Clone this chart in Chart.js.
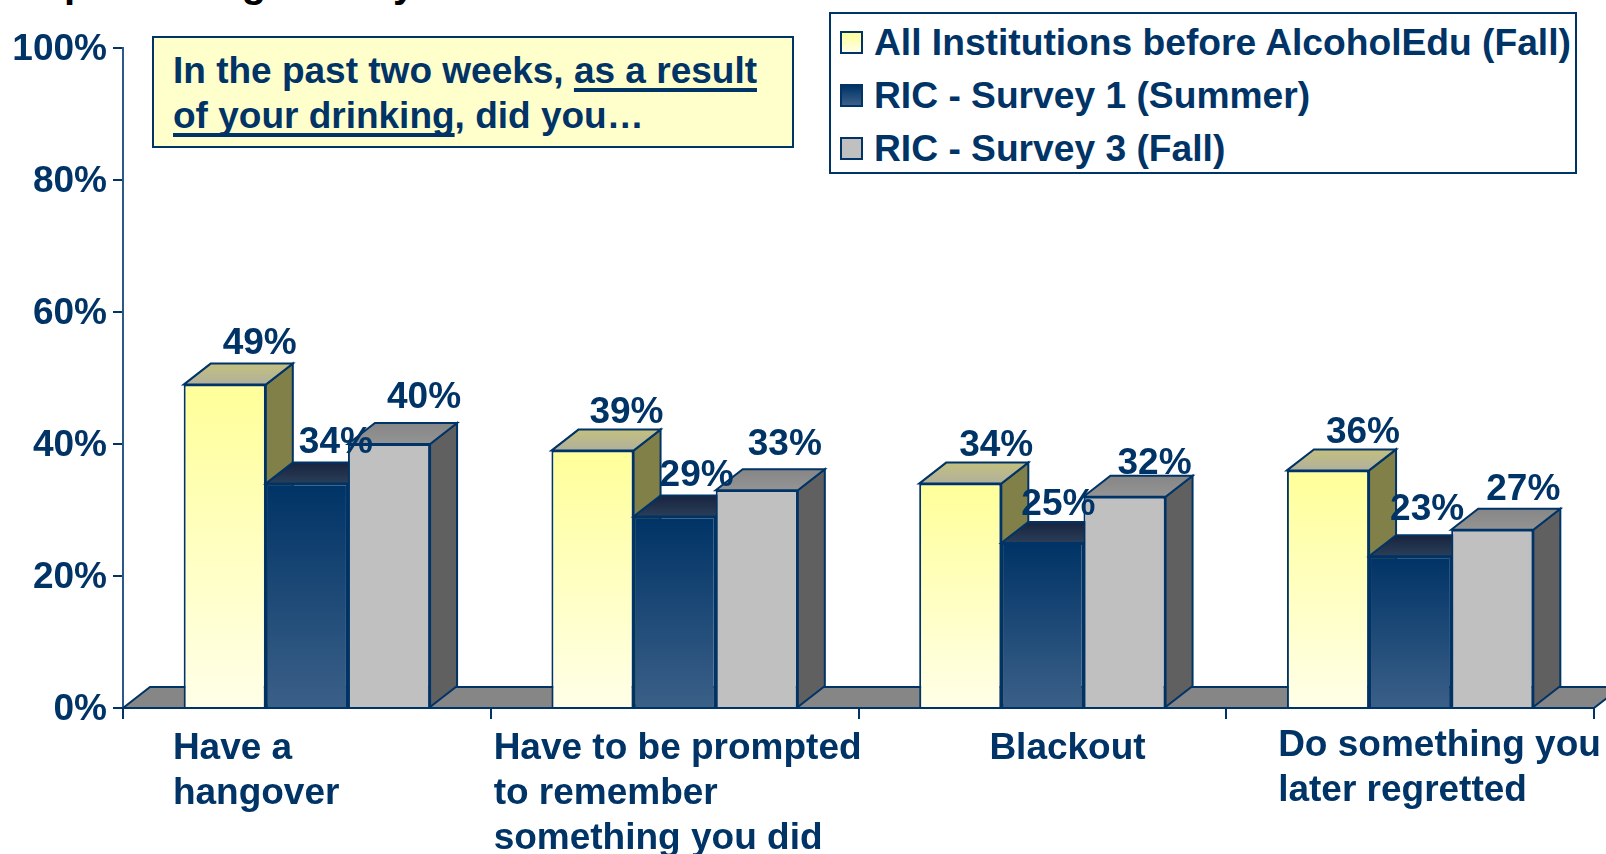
<!DOCTYPE html>
<html>
<head>
<meta charset="utf-8">
<title>Negative consequences of drinking</title>
<script src="https://cdn.jsdelivr.net/npm/chart.js@4/dist/chart.umd.min.js"></script>
<style>
  html, body { margin: 0; padding: 0; background: #fff; overflow: hidden; }
  #wrap { position: relative; width: 1606px; height: 854px; overflow: hidden; }
  canvas { position: absolute; left: 0; top: 0; }
  .box { position: absolute; box-sizing: border-box; border: 2px solid #003366; color: #003366;
         font: bold 37.2px "Liberation Sans", Arial, sans-serif; }
  #titulo { position: absolute; left: 15px; top: -40px; font: bold 40px/46px "Liberation Sans", Arial, sans-serif; color: #000; white-space: nowrap; }
  #titulo span { position: absolute; left: 378px; top: 0; }
  #note { left: 152px; top: 36px; width: 642px; height: 112px; background: #ffffcc; padding: 10px 0 0 19px; line-height: 45px; white-space: nowrap; font-size: 37px; }
  #note u { text-decoration-thickness: 4px; text-underline-offset: 5px; text-decoration-skip-ink: none; }
  #legend { left: 829px; top: 12px; width: 748px; height: 162px; background: #fff; padding: 2px 0 0 9px; white-space: nowrap; }
  #legend div { display: flex; align-items: center; height: 53px; }
  #legend i { display: block; box-sizing: border-box; width: 23px; height: 23px; border: 2px solid #003366; margin-right: 11px; }
</style>
</head>
<body>
<div id="wrap">
  <div id="titulo">Experiencing<span>y</span></div>
  <canvas id="grafico" width="1606" height="854"></canvas>
  <div class="box" id="note">In the past two weeks, <u>as a result</u><br><u>of your drinking</u>, did you…</div>
  <div class="box" id="legend"></div>
</div>
<script>
const categorias = [
    ['Have a', 'hangover'],
    ['Have to be prompted', 'to remember', 'something you did'],
    ['Blackout'],
    ['Do something you', 'later regretted'],
];
const etiquetasSeries = ['All Institutions before AlcoholEdu (Fall)', 'RIC - Survey 1 (Summer)', 'RIC - Survey 3 (Fall)'];
const todas = [49, 39, 34, 36];
const encuesta1 = [34, 29, 25, 23];
const encuesta3 = [40, 33, 32, 27];

const AZUL = '#003366';
const FUENTE = '"Liberation Sans", Arial, sans-serif';
const PROF_X = 27, PROF_Y = 21; // profundidad del efecto 3D

// colores de cada serie: frente (arriba, abajo), lado, tapa (atras, adelante)
const estilos = [
    { frente: ['#ffff99', '#ffffe8'], lado: '#808048', tapa: ['#c4c07e', '#b0b09c'] },
    { frente: ['#003366', '#3b6088'], lado: '#19304f', tapa: ['#18233f', '#2a3f58'] },
    { frente: ['#c0c0c0', '#c0c0c0'], lado: '#606060', tapa: ['#868686', '#949494'] },
];

// ajuste a mano de cada etiqueta de valor respecto al centro de la barra [dx, dy]
const ajustes = [
    [[35, -41], [34, -38], [36, -38], [35, -38]],
    [[29, -41], [22, -41], [16, -38], [17, -46]],
    [[35, -46], [28, -45], [30, -33], [31, -40]],
];
// desplazamiento del texto de cada categoria respecto a su centro [dx, y linea 1]
const ajustesCat = [[-134, 749], [-181, 749], [-53, 749], [-132, 746]];

function degradado(c) {
    const est = estilos[c.datasetIndex];
    const yScale = c.chart.scales.y;
    const arriba = yScale.getPixelForValue(c.raw), abajo = yScale.getPixelForValue(0);
    // antes del layout la escala todavia no tiene pixeles
    if (!Number.isFinite(arriba) || !Number.isFinite(abajo)) return est.frente[0];
    const g = c.chart.ctx.createLinearGradient(0, arriba, 0, abajo);
    g.addColorStop(0, est.frente[0]);
    g.addColorStop(1, est.frente[1]);
    return g;
}

function poligono(ctx, puntos, relleno) {
    ctx.beginPath();
    puntos.forEach((p, i) => i ? ctx.lineTo(p[0], p[1]) : ctx.moveTo(p[0], p[1]));
    ctx.closePath();
    ctx.fillStyle = relleno;
    ctx.fill();
    ctx.lineWidth = 2;
    ctx.strokeStyle = AZUL;
    ctx.stroke();
}

const plugin3d = {
    id: 'plugin3d',
    // piso gris y luego cada serie de izquierda a derecha: lado, tapa y frente
    beforeDatasetsDraw(chart) {
        const { ctx, chartArea: a } = chart;
        const y0 = chart.scales.y.getPixelForValue(0);
        ctx.save();
        poligono(ctx, [[a.left, y0], [a.left + PROF_X, y0 - PROF_Y], [a.right + PROF_X, y0 - PROF_Y], [a.right, y0]], '#868686');
        chart.data.datasets.forEach((ds, i) => {
            const meta = chart.getDatasetMeta(i);
            const est = estilos[i];
            meta.data.forEach(b => {
                const izq = b.x - b.width / 2, der = b.x + b.width / 2;
                poligono(ctx, [[der, b.y], [der + PROF_X, b.y - PROF_Y], [der + PROF_X, b.base - PROF_Y], [der, b.base]], est.lado);
                const g = ctx.createLinearGradient(0, b.y - PROF_Y, 0, b.y);
                g.addColorStop(0, est.tapa[0]);
                g.addColorStop(1, est.tapa[1]);
                poligono(ctx, [[izq, b.y], [izq + PROF_X, b.y - PROF_Y], [der + PROF_X, b.y - PROF_Y], [der, b.y]], g);
            });
            meta.controller.draw();
        });
        ctx.restore();
    },
    // ya se dibujaron arriba, en el orden correcto
    beforeDatasetDraw() {
        return false;
    },
    // etiquetas de valor y de categoria
    afterDatasetsDraw(chart) {
        const ctx = chart.ctx;
        ctx.save();
        ctx.fillStyle = AZUL;
        ctx.font = 'bold 37px ' + FUENTE;
        ctx.textBaseline = 'middle';
        ctx.textAlign = 'center';
        chart.data.datasets.forEach((ds, i) => {
            chart.getDatasetMeta(i).data.forEach((b, j) => {
                ctx.fillText(ds.data[j] + '%', b.x + ajustes[i][j][0], b.y + ajustes[i][j][1]);
            });
        });
        ctx.textAlign = 'left';
        categorias.forEach((lineas, i) => {
            const x = chart.scales.x.getPixelForValue(i) + ajustesCat[i][0];
            lineas.forEach((t, k) => ctx.fillText(t, x, ajustesCat[i][1] + k * 45));
        });
        ctx.restore();
    },
};

const leyendaHtml = {
    id: 'leyendaHtml',
    afterUpdate(chart) {
        const cont = document.getElementById('legend');
        cont.innerHTML = '';
        chart.data.datasets.forEach((ds, i) => {
            const fila = document.createElement('div');
            const cuadro = document.createElement('i');
            cuadro.style.background = 'linear-gradient(' + estilos[i].frente.join(',') + ')';
            fila.appendChild(cuadro);
            fila.appendChild(document.createTextNode(ds.label));
            cont.appendChild(fila);
        });
    },
};

const serie = (i, datos) => ({
    label: etiquetasSeries[i],
    data: datos,
    backgroundColor: degradado,
    borderColor: AZUL,
    borderWidth: 2,
    barPercentage: 1,
    categoryPercentage: 0.67,
});

new Chart(document.getElementById('grafico'), {
    type: 'bar',
    data: {
        labels: categorias,
        datasets: [serie(0, todas), serie(1, encuesta1), serie(2, encuesta3)],
    },
    options: {
        responsive: false,
        animation: false,
        layout: { padding: { left: 0, top: 48, right: 12, bottom: 0 } },
        plugins: { legend: { display: false }, tooltip: { enabled: false } },
        scales: {
            x: {
                afterFit(s) { s.height = 146; },
                grid: { drawOnChartArea: false, tickLength: 11, tickColor: AZUL, lineWidth: 2 },
                border: { color: AZUL, width: 2 },
                ticks: { display: false },
            },
            y: {
                min: 0,
                max: 100,
                afterFit(s) { s.width = 123; },
                grid: { drawOnChartArea: false, tickLength: 10, tickColor: AZUL, lineWidth: 2 },
                border: { color: '#2b5a8a', width: 2 },
                ticks: {
                    stepSize: 20,
                    padding: 6,
                    labelOffset: 2,
                    color: AZUL,
                    font: { family: FUENTE, weight: 'bold', size: 37 },
                    callback: v => v + '%',
                },
            },
        },
    },
    plugins: [plugin3d, leyendaHtml],
});
</script>
</body>
</html>
